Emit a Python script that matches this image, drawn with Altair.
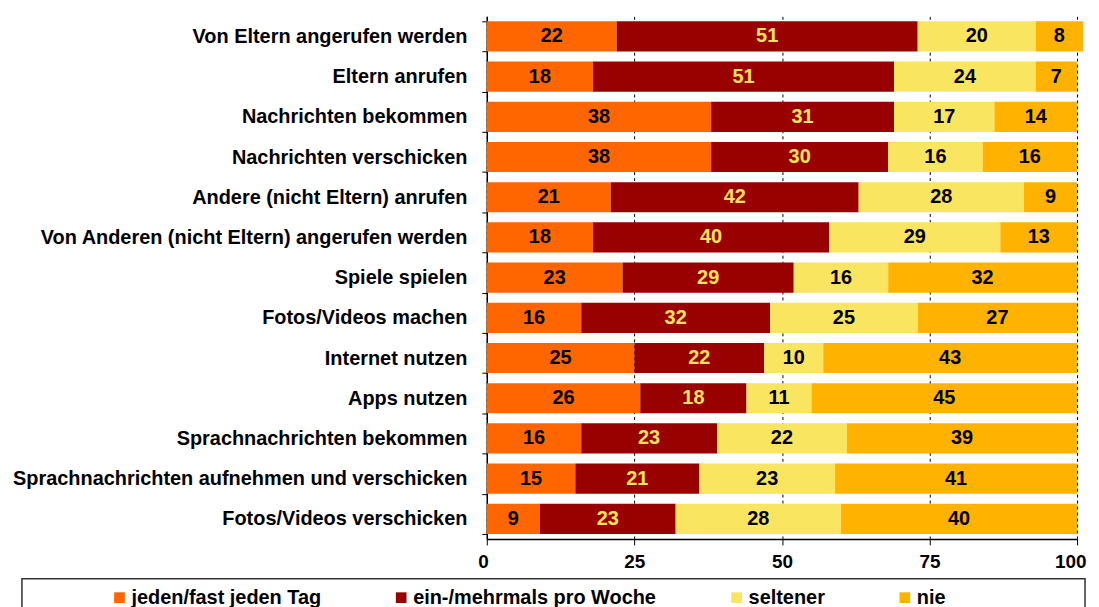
import altair as alt
import pandas as pd

categories = [
    "Von Eltern angerufen werden",
    "Eltern anrufen",
    "Nachrichten bekommen",
    "Nachrichten verschicken",
    "Andere (nicht Eltern) anrufen",
    "Von Anderen (nicht Eltern) angerufen werden",
    "Spiele spielen",
    "Fotos/Videos machen",
    "Internet nutzen",
    "Apps nutzen",
    "Sprachnachrichten bekommen",
    "Sprachnachrichten aufnehmen und verschicken",
    "Fotos/Videos verschicken",
]
series = ["jeden/fast jeden Tag", "ein-/mehrmals pro Woche", "seltener", "nie"]
taeglich = [22, 18, 38, 38, 21, 18, 23, 16, 25, 26, 16, 15, 9]
woechentlich = [51, 51, 31, 30, 42, 40, 29, 32, 22, 18, 23, 21, 23]
seltener = [20, 24, 17, 16, 28, 29, 16, 25, 10, 11, 22, 23, 28]
nie = [8, 7, 14, 16, 9, 13, 32, 27, 43, 45, 39, 41, 40]
colors = ["#FF6600", "#990000", "#F9E55F", "#FFB300"]

rows = []
for s_i, (name, vals) in enumerate(zip(series, [taeglich, woechentlich, seltener, nie])):
    for c, v in zip(categories, vals):
        rows.append({"cat": c, "series": name, "order": s_i, "value": v})
df = pd.DataFrame(rows)

FONT = "Liberation Sans"
FS = 20

base = alt.Chart(df).transform_stack(
    stack="value", groupby=["cat"], sort=[alt.SortField("order")], as_=["x0", "x1"]
).transform_calculate(mid="(datum.x0 + datum.x1) / 2")

yenc = alt.Y(
    "cat:N",
    sort=categories,
    title=None,
    scale=alt.Scale(paddingInner=0.25, paddingOuter=0.125),
    axis=alt.Axis(
        tickBand="extent",
        labelFont=FONT,
        labelFontSize=FS,
        labelFontWeight="bold",
        labelColor="black",
        labelPadding=15,
        labelLimit=600,
        tickSize=5,
        tickColor="black",
        domainColor="black",
        grid=False,
    ),
)

bars = base.mark_bar().encode(
    y=yenc,
    x=alt.X(
        "x0:Q",
        title=None,
        scale=alt.Scale(domain=[0, 100], nice=False),
        axis=alt.Axis(
            values=[0, 25, 50, 75, 100],
            grid=True,
            gridColor="black",
            gridDash=[3, 3],
            gridWidth=1,
            labelFont=FONT,
            labelFontSize=19,
            labelFontWeight="bold",
            labelColor="black",
            labelPadding=8,
            labelFlush=True,
            labelFlushOffset=9,
            tickSize=6,
            tickColor="black",
            domainColor="black",
        ),
    ),
    x2="x1:Q",
    color=alt.Color(
        "series:N",
        sort=series,
        scale=alt.Scale(domain=series, range=colors),
        legend=alt.Legend(
            title=None,
            orient="none",
            direction="horizontal",
            legendX=-379,
            legendY=574,
            symbolType="square",
            symbolSize=115,
            symbolStrokeWidth=0,
            symbolOpacity=1,
            labelFont=FONT,
            labelFontSize=FS,
            labelFontWeight="bold",
            labelColor="black",
            labelOffset=2,
            columnPadding=70,
            labelLimit=400,
            padding=0,
        ),
    ),
)

labels = base.mark_text(
    font=FONT, fontSize=FS, fontWeight="bold", baseline="middle", align="center"
).encode(
    y=alt.Y("cat:N", sort=categories),
    x=alt.X("mid:Q"),
    text=alt.Text("value:Q"),
    color=alt.condition(
        alt.datum.series == "ein-/mehrmals pro Woche",
        alt.value("#FFE35A"),
        alt.value("black"),
    ),
)

legend_box = alt.Chart(pd.DataFrame({"a": [0]})).mark_rect(
    fill="white", stroke="#333333", strokeWidth=1.5
).encode(
    x=alt.value(-467), x2=alt.value(601), y=alt.value(565), y2=alt.value(620)
)

chart = alt.layer(legend_box, bars, labels).properties(
    width=593,
    height=525,
    autosize=alt.AutoSizeParams(type="none"),
    padding={"left": 481, "top": 7, "right": 14, "bottom": 67},
).configure_view(stroke=None).configure_axis(domainWidth=1.5)

chart.save("out.html", embed_options={"renderer": "svg", "actions": False})
